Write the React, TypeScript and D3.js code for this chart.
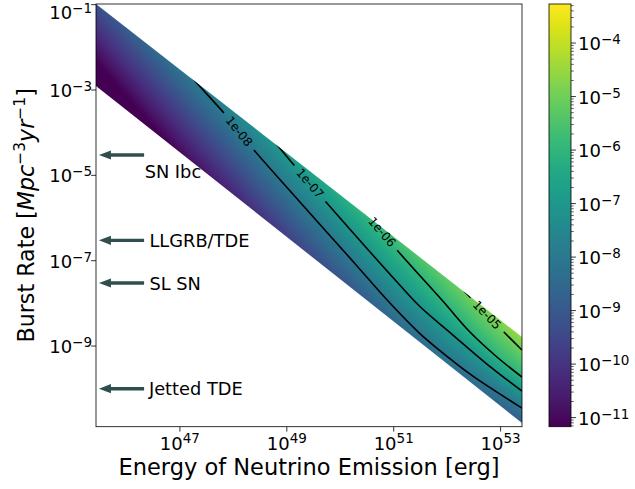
import React from 'react';
import * as d3 from 'd3';

// ---------- data (log10 units) ----------
const xTickExps = [47, 49, 51, 53];
const yTickExps = [-1, -3, -5, -7, -9];
const cbarTickExps = [-4, -5, -6, -7, -8, -9, -10, -11];

const xDomainLog = [45.43, 53.4];
const yDomainLog = [-10.89, -0.985];
const cbarDomainLog = [-11.17, -3.27];

// allowed band (log10 E, log10 R)
const bandLogE = [45.43, 53.4];
const bandUpperLogR = [-0.985, -8.789];
const bandLowerLogR = [-2.906, -10.804];

// colour field: log10 value at columns (log10 E) x fractional height across band (0 = lower edge, 1 = upper edge)
const fieldLogE = [45.43, 47.3, 49.245, 51.116, 52.05, 52.99, 53.4];
const fieldT = [0, 0.2, 0.4, 0.6, 0.8, 1];
const fieldLogValue = [
  [-12.01, -11.45, -10.89, -10.34, -9.78, -9.22],
  [-10.79, -10.23, -9.67, -9.12, -8.56, -8.0],
  [-9.51, -8.95, -8.39, -7.84, -7.28, -6.72],
  [-8.47, -7.86, -7.26, -6.7, -6.17, -5.62],
  [-8.25, -7.59, -6.94, -6.24, -5.68, -5.19],
  [-8.7, -7.75, -6.77, -5.83, -5.28, -4.72],
  [-8.88, -7.87, -6.83, -5.79, -5.16, -4.52],
];

// contour lines [log10 E, log10 R]
const contour1e8 = [
  [47.187, -2.648], [47.299, -2.813], [47.823, -3.539], [48.104, -3.973], [48.384, -4.406],
  [49.245, -5.625], [50.181, -6.937], [50.929, -7.992], [51.49, -8.707], [52.108, -9.351],
  [52.482, -9.703], [52.931, -10.078], [53.399, -10.453],
];
const contour1e7 = [
  [48.759, -4.195], [48.852, -4.336], [49.133, -4.758], [49.432, -5.191], [49.732, -5.625],
  [51.079, -7.523], [51.49, -8.074], [52.108, -8.742], [52.744, -9.421], [53.399, -10.054],
];
const contour1e6 = [
  [50.405, -5.789], [50.499, -5.93], [50.779, -6.328], [51.06, -6.75], [51.902, -7.922],
  [52.426, -8.672], [52.931, -9.257], [53.399, -9.726],
];
const contour1e5 = [
  [52.314, -7.711], [52.407, -7.828], [52.744, -8.273], [53.08, -8.695], [53.399, -9.093],
];
const contourLines = [contour1e8, contour1e7, contour1e6, contour1e5];
const contourText = ['1e-08', '1e-07', '1e-06', '1e-05'];
const contourLabelIndex = [3, 3, 2, 2];

// annotations
const annotLabels = ['SN Ibc', 'LLGRB/TDE', 'SL SN', 'Jetted TDE'];
const annotRate = [3e-5, 3e-7, 3e-8, 1e-10];
const annotTextRate = [1.2e-5, 3e-7, 3e-8, 1e-10];
const annotTextLogE = [46.34, 46.43, 46.43, 46.42];
const arrowTipLogE = 45.485;
const arrowTailLogE = 46.33;

// ---------- layout ----------
const W = 635;
const H = 489;
const PL = 96, PR = 522, PT = 4, PB = 426.7;
const CL = 549, CR = 571;
const FONT = 'DejaVu Sans, Verdana, sans-serif';
const TICK_FS = 18;
const SUP_FS = 13.5;

function lerp(xs: number[], ys: number[], x: number) {
  if (x <= xs[0]) return ys[0] + (ys[1] - ys[0]) * (x - xs[0]) / (xs[1] - xs[0]);
  const n = xs.length;
  if (x >= xs[n - 1]) return ys[n - 1];
  let i = 0;
  while (i < n - 2 && x > xs[i + 1]) i++;
  const f = (x - xs[i]) / (xs[i + 1] - xs[i]);
  return ys[i] + f * (ys[i + 1] - ys[i]);
}

function Pow({ base, exp, fs, sfs, dy }: { base: string; exp: string; fs: number; sfs: number; dy: number }) {
  return (
    <>
      <tspan fontSize={fs}>{base}</tspan>
      <tspan fontSize={sfs} dy={-dy}>{exp}</tspan>
    </>
  );
}

export default function App() {
  const xs = d3.scaleLog().domain(xDomainLog.map((d) => 10 ** d)).range([PL, PR]);
  const ys = d3.scaleLog().domain(yDomainLog.map((d) => 10 ** d)).range([PB, PT]);
  const cs = d3.scaleLog().domain(cbarDomainLog.map((d) => 10 ** d)).range([PB, PT]);
  const color = (lv: number) =>
    d3.interpolateViridis(Math.max(0, Math.min(1, (lv - cbarDomainLog[0]) / (cbarDomainLog[1] - cbarDomainLog[0]))));

  const X = (u: number) => xs(10 ** u);
  const Y = (v: number) => ys(10 ** v);

  // band polygon
  const bandPts: [number, number][] = [
    [X(bandLogE[0]), Y(bandUpperLogR[0])],
    [X(bandLogE[1]), Y(bandUpperLogR[1])],
    [X(bandLogE[1]), Y(bandLowerLogR[1])],
    [X(bandLogE[0]), Y(bandLowerLogR[0])],
  ];

  // field columns
  const cols: { px: number; yT: number; yB: number; stops: { o: number; c: string }[] }[] = [];
  for (let px = PL; px < PR; px++) {
    const u = Math.log10(xs.invert(px + 0.5));
    const yT = Y(lerp(bandLogE, bandUpperLogR, u));
    const yB = Y(lerp(bandLogE, bandLowerLogR, u));
    const colVals = fieldT.map((_, k) => lerp(fieldLogE, fieldLogValue.map((r) => r[k]), u));
    const stops: { o: number; c: string }[] = [];
    for (let s = 0; s <= 20; s++) {
      const t = s / 20;
      stops.push({ o: t, c: color(lerp(fieldT, colVals, t)) });
    }
    cols.push({ px, yT, yB, stops });
  }

  const line = d3
    .line<number[]>()
    .x((d) => X(d[0]))
    .y((d) => Y(d[1]))
    .curve(d3.curveCatmullRom.alpha(0.5));

  const labelFs = 12;
  const labels = contourLines.map((pts, i) => {
    const k = contourLabelIndex[i];
    const p = [X(pts[k][0]), Y(pts[k][1])];
    const a = [X(pts[k - 1][0]), Y(pts[k - 1][1])];
    const b = [X(pts[k + 1][0]), Y(pts[k + 1][1])];
    const ang = (Math.atan2(b[1] - a[1], b[0] - a[0]) * 180) / Math.PI;
    return { x: p[0], y: p[1], ang, text: contourText[i], w: contourText[i].length * 0.577 * labelFs + 13 };
  });

  // colorbar
  const cbStops = d3.range(0, 61).map((i) => ({ o: i / 60, c: d3.interpolateViridis(1 - i / 60) }));
  const cbMinor: number[] = [];
  for (let e = -12; e <= -3; e++) {
    for (let m = 2; m <= 9; m++) {
      const val = m * 10 ** e;
      if (val > 10 ** cbarDomainLog[0] && val < 10 ** cbarDomainLog[1]) cbMinor.push(val);
    }
  }

  return (
    <svg
      width={W}
      height={H}
      viewBox={`0 0 ${W} ${H}`}
      style={{ position: 'absolute', left: 0, top: 0, background: '#fff' }}
      fontFamily={FONT}
    >
      <defs>
        <clipPath id="bandClip">
          <polygon points={bandPts.map((p) => p.join(',')).join(' ')} />
        </clipPath>
        <clipPath id="axClip">
          <rect x={PL} y={PT} width={PR - PL} height={PB - PT} />
        </clipPath>
        {cols.map((c) => (
          <linearGradient key={c.px} id={`g${c.px}`} gradientUnits="userSpaceOnUse" x1={0} y1={c.yB} x2={0} y2={c.yT}>
            {c.stops.map((s, i) => (
              <stop key={i} offset={s.o} stopColor={s.c} />
            ))}
          </linearGradient>
        ))}
        <linearGradient id="cbGrad" x1="0" y1="0" x2="0" y2="1">
          {cbStops.map((s, i) => (
            <stop key={i} offset={s.o} stopColor={s.c} />
          ))}
        </linearGradient>
        <mask id="gapMask" maskUnits="userSpaceOnUse" x={0} y={0} width={W} height={H}>
          <rect x={0} y={0} width={W} height={H} fill="#fff" />
          {labels.map((l, i) => (
            <rect
              key={i}
              x={-l.w / 2}
              y={-7}
              width={l.w}
              height={14}
              fill="#000"
              transform={`translate(${l.x},${l.y}) rotate(${l.ang})`}
            />
          ))}
        </mask>
      </defs>

      <rect x={0} y={0} width={W} height={H} fill="#fff" />

      {/* colour field */}
      <g clipPath="url(#axClip)">
        <g clipPath="url(#bandClip)">
          {cols.map((c) => (
            <rect
              key={c.px}
              x={c.px}
              y={PT}
              width={1}
              height={PB - PT}
              fill={`url(#g${c.px})`}
              shapeRendering="crispEdges"
            />
          ))}
        </g>
        {/* contours */}
        <g clipPath="url(#bandClip)">
          <g mask="url(#gapMask)">
            {contourLines.map((pts, i) => (
              <path key={i} d={line(pts) || ''} fill="none" stroke="#000" strokeWidth={1.6} />
            ))}
          </g>
        </g>
        {labels.map((l, i) => (
          <text
            key={i}
            transform={`translate(${l.x},${l.y}) rotate(${l.ang})`}
            textAnchor="middle"
            dominantBaseline="central"
            fontSize={labelFs}
            fill="#000"
          >
            {l.text}
          </text>
        ))}
      </g>

      {/* annotations */}
      {annotLabels.map((lab, i) => {
        const yA = ys(annotRate[i]);
        const x0 = X(arrowTipLogE);
        const x1 = X(arrowTailLogE);
        const hl = 12, hw = 4.6, sw = 1.7;
        const pts = [
          [x0, yA],
          [x0 + hl, yA - hw],
          [x0 + hl, yA - sw],
          [x1, yA - sw],
          [x1, yA + sw],
          [x0 + hl, yA + sw],
          [x0 + hl, yA + hw],
        ];
        return (
          <g key={lab}>
            <polygon points={pts.map((p) => p.join(',')).join(' ')} fill="#2f4f4f" />
            <text
              x={X(annotTextLogE[i])}
              y={ys(annotTextRate[i])}
              dominantBaseline="central"
              fontSize={17.8}
              fill="#000"
            >
              {lab}
            </text>
          </g>
        );
      })}

      {/* axes frame */}
      <rect x={PL} y={PT} width={PR - PL} height={PB - PT} fill="none" stroke="#000" strokeWidth={0.8} />

      {/* x ticks */}
      {xTickExps.map((e) => {
        const x = xs(10 ** e);
        return (
          <g key={e}>
            <line x1={x} x2={x} y1={PB} y2={PB + 4.9} stroke="#000" strokeWidth={0.8} />
            <text x={x} y={450} textAnchor="middle" fill="#000">
              <Pow base="10" exp={String(e)} fs={TICK_FS} sfs={SUP_FS} dy={7} />
            </text>
          </g>
        );
      })}

      {/* y ticks */}
      {yTickExps.map((e) => {
        const y = ys(10 ** e);
        return (
          <g key={e}>
            <line x1={PL - 4.9} x2={PL} y1={y} y2={y} stroke="#000" strokeWidth={0.8} />
            <text x={92} y={Math.max(y + 7, 19)} textAnchor="end" fill="#000">
              <Pow base="10" exp={`\u2212${-e}`} fs={TICK_FS} sfs={SUP_FS} dy={6} />
            </text>
          </g>
        );
      })}

      {/* axis labels */}
      <text x={(PL + PR) / 2} y={475} textAnchor="middle" fontSize={22.5} fill="#000">
        Energy of Neutrino Emission [erg]
      </text>
      <text transform={`translate(34,${(PT + PB) / 2}) rotate(-90)`} textAnchor="middle" fontSize={22.2} fill="#000">
        <tspan>Burst Rate [</tspan>
        <tspan fontStyle="italic">Mpc</tspan>
        <tspan fontSize={15.5} dy={-9}>{'\u22123'}</tspan>
        <tspan fontStyle="italic" dy={9}>yr</tspan>
        <tspan fontSize={15.5} dy={-9}>{'\u22121'}</tspan>
        <tspan dy={9}>]</tspan>
      </text>

      {/* colorbar */}
      <rect x={CL} y={PT} width={CR - CL} height={PB - PT} fill="url(#cbGrad)" />
      <rect x={CL} y={PT} width={CR - CL} height={PB - PT} fill="none" stroke="#000" strokeWidth={0.8} />
      {cbMinor.map((v, i) => (
        <line key={i} x1={CR} x2={CR + 2.8} y1={cs(v)} y2={cs(v)} stroke="#000" strokeWidth={0.6} />
      ))}
      {cbarTickExps.map((e) => {
        const y = cs(10 ** e);
        return (
          <g key={e}>
            <line x1={CR} x2={CR + 4.9} y1={y} y2={y} stroke="#000" strokeWidth={0.8} />
            <text x={578} y={y + 7} fill="#000">
              <Pow base="10" exp={`\u2212${-e}`} fs={TICK_FS} sfs={SUP_FS} dy={6} />
            </text>
          </g>
        );
      })}
    </svg>
  );
}
